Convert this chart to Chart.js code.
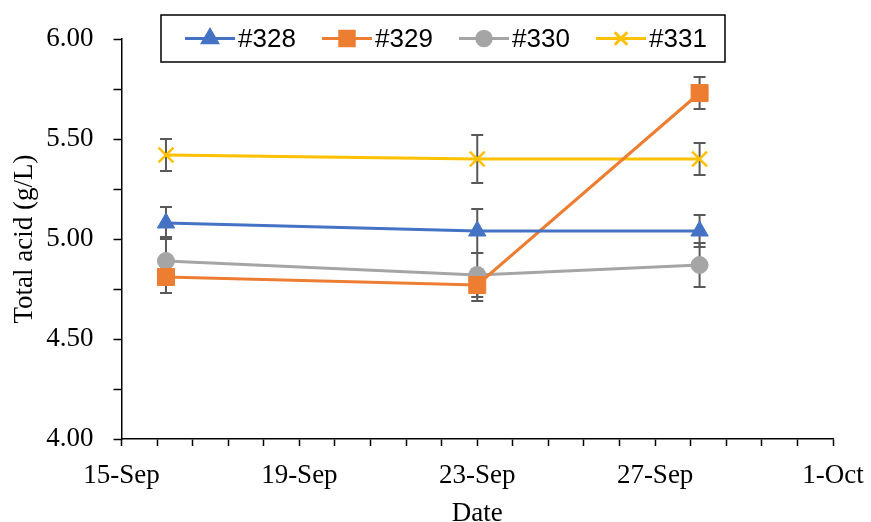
<!DOCTYPE html>
<html>
<head>
<meta charset="utf-8">
<script src="https://cdn.jsdelivr.net/npm/chart.js@4/dist/chart.umd.min.js"></script>
<style>
  html, body { margin: 0; padding: 0; background: #ffffff; }
  #wrap { width: 871px; height: 522px; }
</style>
</head>
<body>
<div id="wrap"><canvas id="c" width="871" height="522"></canvas></div>
<script>
// Sampling dates, as days after 15-Sep
const sampleDays = [1, 8, 13];
const dateTickLabels = ['15-Sep', '19-Sep', '23-Sep', '27-Sep', '1-Oct'];
const seriesNames = ['#328', '#329', '#330', '#331'];

// Total acid (g/L) per sample and its standard deviation
const acid328 = [5.08, 5.04, 5.04];
const acid329 = [4.81, 4.77, 5.73];
const acid330 = [4.89, 4.82, 4.87];
const acid331 = [5.42, 5.40, 5.40];
const sd328 = [0.08, 0.11, 0.08];
const sd329 = [0.08, 0.08, 0.08];
const sd330 = [0.12, 0.11, 0.11];
const sd331 = [0.08, 0.12, 0.08];

const seriesColors = ['#4472C4', '#ED7D31', '#A5A5A5', '#FFC000'];
const seriesMarkers = [
  { style: 'triangle', radius: 10 },
  { style: 'rect', radius: 12 },
  { style: 'circle', radius: 8.5 },
  { style: 'crossRot', radius: 10.5 }
];

const values = [acid328, acid329, acid330, acid331];
const errors = [sd328, sd329, sd330, sd331];

const datasets = seriesNames.map((name, s) => ({
  label: name,
  data: sampleDays.map((d, i) => ({ x: d, y: values[s][i] })),
  errors: errors[s],
  borderColor: seriesColors[s],
  backgroundColor: seriesColors[s],
  borderWidth: 3,
  pointStyle: seriesMarkers[s].style,
  pointRadius: seriesMarkers[s].radius,
  pointHoverRadius: seriesMarkers[s].radius,
  pointBorderWidth: seriesMarkers[s].style === 'crossRot' ? 2.5 : 1,
  pointBackgroundColor: seriesColors[s],
  pointBorderColor: seriesColors[s],
  tension: 0,
  fill: false
}));

// Vertical error bars with caps, drawn under the markers
const errorBars = {
  id: 'errorBars',
  beforeDatasetsDraw(chart) {
    const ctx = chart.ctx;
    const y = chart.scales.y;
    ctx.save();
    ctx.strokeStyle = '#595959';
    ctx.lineWidth = 2;
    chart.data.datasets.forEach((ds, di) => {
      const meta = chart.getDatasetMeta(di);
      meta.data.forEach((pt, i) => {
        const v = ds.data[i].y, e = ds.errors[i];
        const yt = y.getPixelForValue(v + e), yb = y.getPixelForValue(v - e);
        const x = pt.x, cap = 6;
        ctx.beginPath();
        ctx.moveTo(x, yt); ctx.lineTo(x, yb);
        ctx.moveTo(x - cap, yt); ctx.lineTo(x + cap, yt);
        ctx.moveTo(x - cap, yb); ctx.lineTo(x + cap, yb);
        ctx.stroke();
      });
    });
    ctx.restore();
  }
};

// Boxed legend sitting inside the top of the plot
const boxLegend = {
  id: 'boxLegend',
  afterDraw(chart) {
    const ctx = chart.ctx;
    const bx = 161, by = 15, bw = 564, bh = 47;
    ctx.save();
    ctx.fillStyle = '#ffffff';
    ctx.fillRect(bx, by, bw, bh);
    ctx.strokeStyle = '#000000';
    ctx.lineWidth = 1.5;
    ctx.strokeRect(bx, by, bw, bh);
    const cy = by + bh / 2;
    chart.data.datasets.forEach((ds, s) => {
      const x0 = 185 + s * 137;
      ctx.strokeStyle = ds.borderColor;
      ctx.lineWidth = 3;
      ctx.beginPath();
      ctx.moveTo(x0, cy); ctx.lineTo(x0 + 50, cy);
      ctx.stroke();
      ctx.fillStyle = ds.borderColor;
      ctx.strokeStyle = ds.borderColor;
      Chart.helpers.drawPoint(ctx, {
        pointStyle: ds.pointStyle,
        radius: ds.pointRadius * 0.85,
        rotation: 0,
        borderWidth: ds.pointBorderWidth
      }, x0 + 25, cy);
      ctx.fillStyle = '#000000';
      ctx.font = '26px "Liberation Sans", Arial, sans-serif';
      ctx.textBaseline = 'middle';
      ctx.textAlign = 'left';
      ctx.fillText(ds.label, x0 + 53, cy + 1);
    });
    ctx.restore();
  }
};

const serif = '"Liberation Serif", "Times New Roman", serif';

new Chart(document.getElementById('c'), {
  type: 'line',
  data: { datasets },
  plugins: [errorBars, boxLegend],
  options: {
    responsive: false,
    devicePixelRatio: 1,
    animation: false,
    layout: { padding: { top: 39, right: 38, left: 0, bottom: 0 } },
    plugins: { legend: { display: false }, tooltip: { enabled: false } },
    scales: {
      x: {
        type: 'linear',
        min: 0,
        max: 16,
        afterFit(scale) {
          scale.height = 83;
          scale.paddingLeft = 0;
          scale.paddingRight = 0;
        },
        border: { color: '#000000', width: 1.5 },
        grid: { drawOnChartArea: false, drawTicks: true, tickLength: 7, color: '#000000', tickWidth: 1.5 },
        ticks: {
          stepSize: 0.8,
          autoSkip: false,
          maxRotation: 0,
          padding: 14,
          color: '#000000',
          font: { family: serif, size: 27 },
          callback: (v, i) => (i % 5 === 0 ? dateTickLabels[i / 5] : '')
        },
        title: {
          display: true,
          text: 'Date',
          color: '#000000',
          font: { family: serif, size: 27, lineHeight: 0.63 },
          padding: { top: 0, bottom: 0 }
        }
      },
      y: {
        min: 4,
        max: 6,
        afterFit(scale) { scale.width = 121.5; },
        border: { color: '#000000', width: 1.5 },
        grid: { drawOnChartArea: false, drawTicks: true, tickLength: 8, color: '#000000', tickWidth: 1.5 },
        ticks: {
          stepSize: 0.25,
          padding: 20,
          color: '#000000',
          font: { family: serif, size: 27 },
          callback: (v, i) => (i % 2 === 0 ? Number(v).toFixed(2) : '')
        },
        title: {
          display: true,
          text: 'Total acid (g/L)',
          color: '#000000',
          font: { family: serif, size: 27, lineHeight: 1.4 },
          padding: { top: 6, bottom: 0 }
        }
      }
    }
  }
});
</script>
</body>
</html>
